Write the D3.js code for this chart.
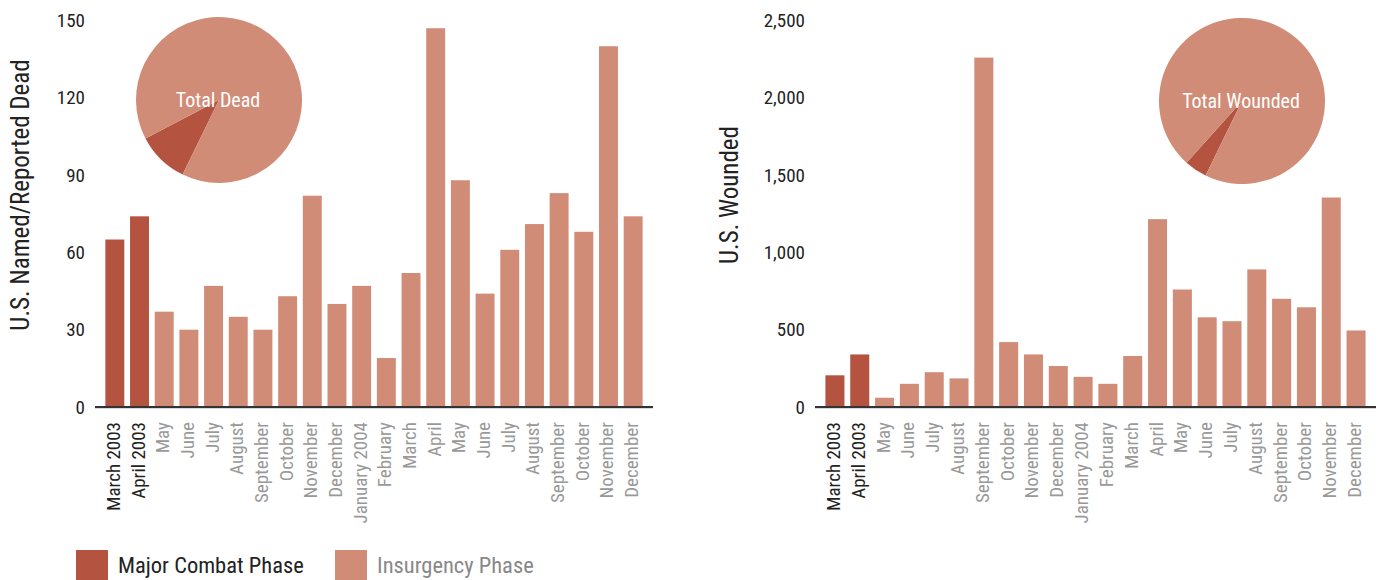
<!DOCTYPE html>
<html><head><meta charset="utf-8">
<script src="https://cdn.jsdelivr.net/npm/d3@7"></script>
<style>
body{margin:0;background:#fff}
text{font-family:"Roboto Condensed","Liberation Sans Narrow","DejaVu Sans Condensed",Roboto,sans-serif}
</style>
</head><body>
<svg id="c" width="1381" height="580"></svg>
<script>
const months = ["March 2003","April 2003","May","June","July","August","September","October","November","December","January 2004","February","March","April","May","June","July","August","September","October","November","December"];
const phases = ["major","major","ins","ins","ins","ins","ins","ins","ins","ins","ins","ins","ins","ins","ins","ins","ins","ins","ins","ins","ins","ins"];
const dead = [65,74,37,30,47,35,30,43,82,40,47,19,52,147,88,44,61,71,83,68,140,74];
const wounded = [205,340,60,150,225,185,2260,420,340,265,195,150,330,1215,760,580,555,890,700,645,1355,495];
const deadTicks = [0,30,60,90,120,150];
const woundedTicks = [0,500,1000,1500,2000,2500];
const legendLabels = ["Major Combat Phase","Insurgency Phase"];

const COL = {major:"#b4533f", ins:"#d18c77"};
const svg = d3.select("#c");

function chart(cfg){
  const g = svg.append("g");
  const x = d3.scaleBand().domain(d3.range(months.length)).range([cfg.x0,cfg.x1]).paddingInner(0.233).paddingOuter(0.42);
  const y = d3.scaleLinear().domain([0,cfg.max]).range([407,20.5]);
  g.selectAll("rect.bar").data(cfg.values).join("rect")
    .attr("x",(d,i)=>x(i)).attr("width",x.bandwidth())
    .attr("y",d=>y(d)).attr("height",d=>y(0)-y(d))
    .attr("fill",(d,i)=>COL[phases[i]]);
  const ya = g.append("g").attr("transform",`translate(${cfg.x0},0)`)
    .call(d3.axisLeft(y).tickValues(cfg.ticks).tickSize(0).tickPadding(10).tickFormat(cfg.fmt));
  ya.select(".domain").remove();
  ya.selectAll("text").attr("font-size",19).attr("fill","#222").style("font-family",null);
  const xa = g.append("g").attr("transform",`translate(0,407)`)
    .call(d3.axisBottom(x).tickSize(0).tickFormat(i=>months[i]));
  xa.select(".domain").remove();
  xa.selectAll("text").attr("transform","rotate(-90)").attr("x",-15).attr("y",5).attr("dy",0)
    .attr("text-anchor","end").attr("font-size",19)
    .attr("fill",(i)=>phases[i]==="major"?"#222":"#999").style("font-family",null);
  g.append("line").attr("x1",cfg.x0).attr("x2",cfg.x1).attr("y1",408.5).attr("y2",408.5).attr("stroke","#d8d8d8").attr("stroke-width",1);
  g.append("line").attr("x1",cfg.x0).attr("x2",cfg.x1).attr("y1",407).attr("y2",407).attr("stroke","#333").attr("stroke-width",2);
  g.append("text").attr("transform",`translate(${cfg.tx},195) rotate(-90)`)
    .attr("text-anchor","middle").attr("font-size",25).attr("fill","#222").text(cfg.title);
  const major = d3.sum(cfg.values.filter((d,i)=>phases[i]==="major"));
  const ins = d3.sum(cfg.values.filter((d,i)=>phases[i]!=="major"));
  const a0 = 206*Math.PI/180;
  const pie = d3.pie().sort(null).startAngle(a0).endAngle(a0+2*Math.PI);
  const arc = d3.arc().innerRadius(0).outerRadius(83);
  const pg = g.append("g").attr("transform",`translate(${cfg.px},${cfg.py})`);
  pg.selectAll("path").data(pie([major,ins])).join("path").attr("d",arc)
    .attr("fill",(d,i)=>i===0?COL.major:COL.ins);
  pg.append("text").attr("x",-1).attr("y",7).attr("text-anchor","middle").attr("font-size",20)
    .attr("fill","#fff").text(cfg.pieLabel);
}

chart({x0:95,x1:653,max:150,values:dead,ticks:deadTicks,fmt:d3.format("d"),title:"U.S. Named/Reported Dead",tx:29,px:219,py:100,pieLabel:"Total Dead"});
chart({x0:815,x1:1376,max:2500,values:wounded,ticks:woundedTicks,fmt:d3.format(","),title:"U.S. Wounded",tx:738,px:1242,py:101,pieLabel:"Total Wounded"});

const lg = svg.append("g");
const lx = [76,335];
lg.selectAll("rect").data(legendLabels).join("rect")
  .attr("x",(d,i)=>lx[i]).attr("y",550).attr("width",32).attr("height",32)
  .attr("fill",(d,i)=>i===0?COL.major:COL.ins);
lg.selectAll("text").data(legendLabels).join("text")
  .attr("x",(d,i)=>lx[i]+42).attr("y",573).attr("font-size",22.5)
  .attr("fill",(d,i)=>i===0?"#222":"#888").text(d=>d);
</script>
</body></html>
